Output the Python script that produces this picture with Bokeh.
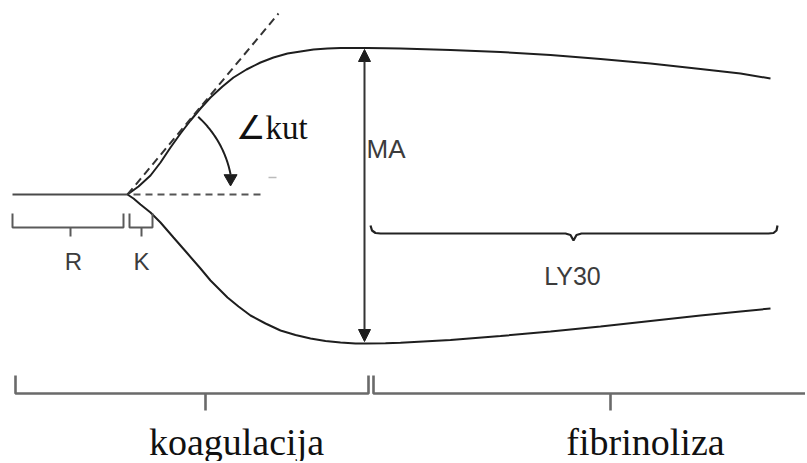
import numpy as np
from bokeh.plotting import figure
from bokeh.models import Range1d, Arrow, NormalHead
from bokeh.core.properties import value
from bokeh.embed import file_html
from bokeh.resources import INLINE

# ---- data (diagram coordinates: x = time-like, y = amplitude, screen-style) ----
baseline_x = [12, 127]
baseline_y = [194, 194]

upper_x = [127, 138, 150, 160, 170, 180, 190, 200, 210, 222, 233, 246, 260, 273, 287, 300, 313, 327, 340, 355, 367, 385, 400, 450, 500, 550, 600, 650, 700, 740, 770]
upper_y = [194, 186, 175, 162, 147, 133, 120, 108, 97, 86, 77, 69, 62, 57, 53, 51, 49, 48, 47.5, 47.5, 47.5, 47.7, 48, 49.5, 51.5, 54.5, 58.5, 63, 68.5, 73, 78]

lower_x = [127, 133, 140, 150, 160, 173, 187, 200, 210, 220, 227, 238, 250, 265, 280, 295, 310, 325, 340, 355, 365, 385, 400, 450, 500, 550, 600, 650, 700, 740, 770]
lower_y = [194, 198, 204, 212, 222, 237, 253, 268, 280, 290, 297, 306, 315, 323, 330, 334.5, 338, 340.5, 342, 343, 343, 342.8, 342.3, 339.5, 335.5, 331, 326, 320.5, 315, 311, 308]

tangent_x = [127, 278]
tangent_y = [194, 13]
horiz_dash_x = [133, 260]
horiz_dash_y = [194, 194]

angle_center = (127, 194)
angle_radius = 105
angle_from_deg = 47.7
angle_to_deg = 11.0

ma_x = 364
ma_top = 49
ma_bottom = 341

r_bracket_x = [12, 12, 123, 123]
r_bracket_y = [213, 227, 227, 213]
r_tick_x = [70, 70]
r_tick_y = [227, 236]
k_bracket_x = [129, 129, 152, 152]
k_bracket_y = [213, 227, 227, 213]
k_tick_x = [141, 141]
k_tick_y = [227, 236]

ly_x = [370, 371.5, 375, 380, 565, 570, 573, 576, 581, 768, 773, 776, 777]
ly_y = [225, 230, 232.5, 233, 233, 234.5, 240, 234.5, 233, 233, 232.5, 230, 225]

coag_x = [15, 15, 368, 368]
coag_y = [375, 393, 393, 375]
coag_tick_x = [205, 205]
coag_tick_y = [393, 410]
fib_x = [373, 373, 806]
fib_y = [375, 393, 393]
fib_tick_x = [610, 610]
fib_tick_y = [393, 410]

small_mark_x = [268, 276]
small_mark_y = [177, 177]

labels_sans = ["R", "K", "MA", "LY30"]
labels_sans_x = [73, 141, 366, 572]
labels_sans_y = [261, 261, 148, 275]
labels_sans_align = ["center", "center", "left", "center"]

labels_serif = ["koagulacija", "fibrinoliza"]
labels_serif_x = [236, 645]
labels_serif_y = [441, 441]

angle_label = "∠kut"
angle_label_x = 235
angle_label_y = 127

# ---- figure ----
W, H = 805, 461
p = figure(width=W, height=H, output_backend="svg", toolbar_location=None,
           x_range=Range1d(0, W), y_range=Range1d(H, 0),
           x_axis_type=None, y_axis_type=None, min_border=0)
p.grid.visible = False
p.outline_line_color = None
p.background_fill_color = "white"
p.border_fill_color = "white"

curve_col = "#1e1e1e"
brk_col = "#5a5a5a"

p.line(baseline_x, baseline_y, line_color="#4a4a4a", line_width=2)
p.line(upper_x, upper_y, line_color=curve_col, line_width=2)
p.line(lower_x, lower_y, line_color=curve_col, line_width=2)
p.line(tangent_x, tangent_y, line_color="#333333", line_width=2, line_dash="8 5")
p.line(horiz_dash_x, horiz_dash_y, line_color="#555555", line_width=2, line_dash="7 5")
p.line(small_mark_x, small_mark_y, line_color="#bbbbbb", line_width=1.5)

# angle arc
th = np.radians(np.linspace(angle_from_deg, angle_to_deg, 40))
arc_x = angle_center[0] + angle_radius * np.cos(th)
arc_y = angle_center[1] - angle_radius * np.sin(th)
p.line(arc_x, arc_y, line_color=curve_col, line_width=2)
p.scatter([arc_x[-1]], [arc_y[-1] + 4], marker="inverted_triangle", size=13,
          fill_color=curve_col, line_color=curve_col)

# MA double arrow
p.add_layout(Arrow(start=NormalHead(size=12, fill_color=curve_col, line_color=curve_col),
                   end=NormalHead(size=12, fill_color=curve_col, line_color=curve_col),
                   x_start=ma_x, y_start=ma_top, x_end=ma_x, y_end=ma_bottom,
                   line_color="#333333", line_width=2))

# brackets
for xs, ys in [(r_bracket_x, r_bracket_y), (r_tick_x, r_tick_y),
               (k_bracket_x, k_bracket_y), (k_tick_x, k_tick_y)]:
    p.line(xs, ys, line_color=brk_col, line_width=2)
p.line(ly_x, ly_y, line_color="#222222", line_width=2.2)
for xs, ys in [(coag_x, coag_y), (coag_tick_x, coag_tick_y),
               (fib_x, fib_y), (fib_tick_x, fib_tick_y)]:
    p.line(xs, ys, line_color="#6a6a6a", line_width=2.6)

# texts
sizes = ["24px", "24px", "26px", "25px"]
for t, x, y, a, s in zip(labels_sans, labels_sans_x, labels_sans_y, labels_sans_align, sizes):
    p.text([x], [y], text=[t], text_align=a, text_baseline="middle",
           text_font=value("Liberation Sans"), text_font_size=s, text_color="#3c3c3c")

p.text(labels_serif_x, labels_serif_y, text=labels_serif, text_align="center",
       text_baseline="middle", text_font=value("Liberation Serif"),
       text_font_size="38px", text_color="#111111")

p.text([angle_label_x], [angle_label_y], text=[angle_label], text_align="left",
       text_baseline="middle", text_font=value("Liberation Serif"),
       text_font_size="33px", text_color="#111111")

open("out.html", "w").write(file_html(p, INLINE))
